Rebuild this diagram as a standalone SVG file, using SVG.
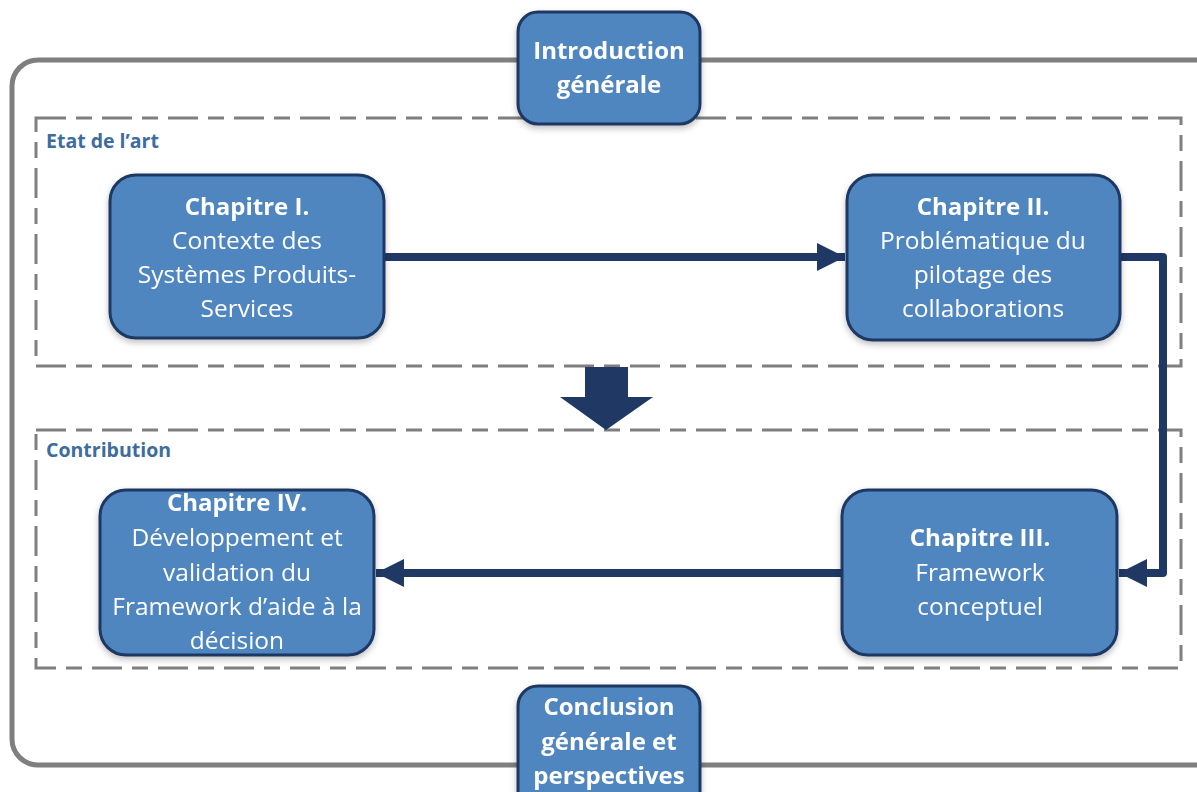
<svg xmlns="http://www.w3.org/2000/svg" width="1197" height="792" viewBox="0 0 1197 792">
<style>
.box{fill:#4f86bf;stroke:#1f3864;stroke-width:3}
.t{font-family:"Open Sans","Liberation Sans",sans-serif;font-size:24.5px;fill:#ffffff;text-anchor:middle}
.b{font-weight:bold;font-size:24px}
.lbl{font-family:"Open Sans","Liberation Sans",sans-serif;font-size:19.5px;font-weight:bold;fill:#3d6c9e}
.dash{fill:none;stroke:#7f7f7f;stroke-width:3;stroke-dasharray:30 10 16 10}
.conn{fill:none;stroke:#1f3864;stroke-width:8;stroke-linejoin:round}
</style>
<defs>
<marker id="ah" viewBox="0 0 10 10" refX="10" refY="5" markerWidth="3.5" markerHeight="3.6" markerUnits="strokeWidth" orient="auto">
<path d="M0,0 L10,5 L0,10 Z" fill="#1f3864"/>
</marker>
<filter id="sh" x="-10%" y="-10%" width="120%" height="130%">
<feDropShadow dx="0" dy="3" stdDeviation="3" flood-color="#000" flood-opacity="0.25"/>
</filter>
</defs>
<rect width="1197" height="792" fill="#ffffff"/>
<g id="frame">
<rect x="12" y="60" width="1220" height="705" rx="26" fill="none" stroke="#7f7f7f" stroke-width="5"/>
</g>
<g id="etat">
<rect class="dash" x="36" y="118" width="1145" height="248"/>
<text class="lbl" x="46" y="148">Etat de l’art</text>
</g>
<g id="contribution">
<rect class="dash" x="36" y="430" width="1145" height="238"/>
<text class="lbl" x="46" y="457">Contribution</text>
</g>
<g id="bigarrow">
<path d="M585,367 H628 V397 H653 L606,430 L560,397 H585 Z" fill="#1f3864"/>
</g>
<g id="connectors">
<path class="conn" d="M384,257 H845" marker-end="url(#ah)"/>
<path class="conn" d="M1120,257 H1163 V573 H1119" marker-end="url(#ah)"/>
<path class="conn" d="M842,573 H376" marker-end="url(#ah)"/>
</g>
<g id="intro" filter="url(#sh)">
<rect class="box" x="518" y="12" width="182" height="112" rx="20"/>
<text class="t b" x="609" y="59">Introduction</text>
<text class="t b" x="609" y="93">générale</text>
</g>
<g id="ch1" filter="url(#sh)">
<rect class="box" x="110" y="175" width="274" height="163" rx="26"/>
<text class="t b" x="247" y="215">Chapitre I.</text>
<text class="t" x="247" y="249">Contexte des</text>
<text class="t" x="247" y="283">Systèmes Produits-</text>
<text class="t" x="247" y="317">Services</text>
</g>
<g id="ch2" filter="url(#sh)">
<rect class="box" x="847" y="175" width="273" height="165" rx="26"/>
<text class="t b" x="983" y="215">Chapitre II.</text>
<text class="t" x="983" y="249">Problématique du</text>
<text class="t" x="983" y="283">pilotage des</text>
<text class="t" x="983" y="317">collaborations</text>
</g>
<g id="ch3" filter="url(#sh)">
<rect class="box" x="842" y="490" width="275" height="165" rx="26"/>
<text class="t b" x="980" y="546">Chapitre III.</text>
<text class="t" x="980" y="581">Framework</text>
<text class="t" x="980" y="615">conceptuel</text>
</g>
<g id="ch4" filter="url(#sh)">
<rect class="box" x="100" y="490" width="274" height="165" rx="26"/>
<text class="t b" x="237" y="511">Chapitre IV.</text>
<text class="t" x="237" y="546">Développement et</text>
<text class="t" x="237" y="581">validation du</text>
<text class="t" x="237" y="615">Framework d’aide à la</text>
<text class="t" x="237" y="649">décision</text>
</g>
<g id="conclusion" filter="url(#sh)">
<rect class="box" x="518" y="686" width="182" height="130" rx="20"/>
<text class="t b" x="609" y="715">Conclusion</text>
<text class="t b" x="609" y="750">générale et</text>
<text class="t b" x="609" y="784">perspectives</text>
</g>
</svg>
